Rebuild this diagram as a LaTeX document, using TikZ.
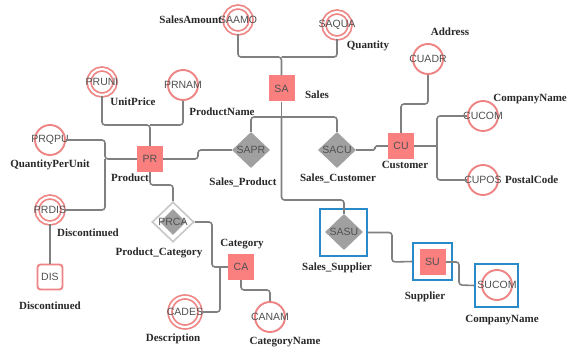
\documentclass[tikz,border=0pt]{standalone}
\usepackage{fontspec}
\setmainfont{Liberation Serif}
\setsansfont{Liberation Sans}
\usetikzlibrary{shapes.geometric,calc}
\definecolor{pinkfill}{RGB}{250,128,128}
\definecolor{pinkline}{RGB}{238,132,132}
\definecolor{connc}{RGB}{128,128,128}
\definecolor{diamc}{RGB}{160,160,160}
\definecolor{bluec}{RGB}{40,138,200}
\definecolor{ntext}{RGB}{80,80,80}
\definecolor{ltext}{RGB}{40,40,40}
\tikzset{
  conn/.style={draw=connc, line width=1.6pt, rounded corners=3pt},
  ntxt/.style={font=\sffamily\fontsize{10.5}{12}\selectfont, text=ntext},
  ent/.style={rectangle, fill=pinkfill, minimum size=26pt, inner sep=0pt, ntxt},
  att/.style={circle, draw=pinkline, line width=1.9pt, minimum size=30pt, inner sep=0pt},
  datt/.style={circle, draw=pinkline, line width=1.7pt, double=white, double distance=2.2pt, minimum size=26pt, inner sep=0pt},
  rel/.style={diamond, fill=diamc, minimum width=38pt, minimum height=36pt, inner sep=0pt},
  bbox/.style={rectangle, draw=bluec, line width=1.6pt, inner sep=0pt},
  lbl/.style={font=\bfseries\fontsize{11}{13}\selectfont, text=ltext, inner sep=0pt},
}
\begin{document}
\begin{tikzpicture}[x=1pt,y=-1pt]
\useasboundingbox (0,0) rectangle (568,347);
\clip (0,0) rectangle (568,347);
\fill[white] (0,0) rectangle (568,347);
% ---------- Sales
\node[ent] (sa) at (281.5,88.5) {SA};
\node[datt, label={[ntxt]center:SAAMO}] (saamo) at (238,20) {};
\node[datt, label={[ntxt]center:SAQUA}] (saqua) at (337,25) {};
\node[rel, label={[ntxt]center:SAPR}] (sapr) at (251,150) {};
\node[rel, label={[ntxt]center:SACU}] (sacu) at (337,150) {};
% ---------- Product
\node[ent] (pr) at (150,159) {PR};
\node[datt, label={[ntxt]center:PRUNI}] (pruni) at (102,82) {};
\node[att, label={[ntxt]center:PRNAM}] (prnam) at (183,85) {};
\node[att, label={[ntxt]center:PRQPU}] (prqpu) at (50,140) {};
\node[datt, label={[ntxt]center:PRDIS}] (prdis) at (50,210) {};
\node[rectangle, rounded corners=3pt, draw=pinkline, line width=1.9pt, minimum size=25pt, inner sep=0pt, ntxt] (dis) at (50,277) {DIS};
% ---------- Product_Category
\node[diamond, draw={rgb,255:red,200;green,200;blue,200}, fill=white, line width=1.6pt, minimum width=42pt, minimum height=40pt, inner sep=0pt] (prca) at (173,222) {};
\node[diamond, fill=diamc, minimum width=26pt, minimum height=26pt, inner sep=0pt] (prcain) at (173,222) {};
\node[ntxt] (prcat) at (173,222) {PRCA};
% ---------- Category
\node[ent] (ca) at (241,267) {CA};
\node[datt, minimum size=30pt, label={[ntxt]center:CADES}] (cades) at (185,312) {};
\node[att, label={[ntxt]center:CANAM}] (canam) at (270,317) {};
% ---------- Customer
\node[ent] (cu) at (401,146) {CU};
\node[att, label={[ntxt]center:CUADR}] (cuadr) at (428,59) {};
\node[att, label={[ntxt]center:CUCOM}] (cucom) at (483,116) {};
\node[att, label={[ntxt]center:CUPOS}] (cupos) at (483,180) {};
% ---------- Supplier
\node[bbox, minimum size=47pt] (sasubox) at (343.5,232.5) {};
\node[rel, label={[ntxt]center:SASU}] (sasu) at (344,232) {};
\node[bbox, minimum width=39pt, minimum height=37pt] (subox) at (432.5,261.5) {};
\node[ent] (su) at (432.5,262) {SU};
\node[bbox, minimum size=43pt] (sucombox) at (496.5,285.5) {};
\node[att, label={[ntxt]center:SUCOM}] (sucom) at (497,285) {};
% ---------- labels
\node[lbl, anchor=east] (l1) at (222,20) {SalesAmount};
\node[lbl] (l2) at (368,46) {Quantity};
\node[lbl] (l3) at (317,95) {Sales};
\node[lbl] (l4) at (243,182) {Sales\_Product};
\node[lbl] (l5) at (338,178) {Sales\_Customer};
\node[lbl] (l6) at (130,178) {Product};
\node[lbl] (l7) at (133,102) {UnitPrice};
\node[lbl] (l8) at (222,112) {ProductName};
\node[lbl] (l9) at (50,165) {QuantityPerUnit};
\node[lbl] (l10) at (88,233) {Discontinued};
\node[lbl] (l11) at (50,306) {Discontinued};
\node[lbl] (l12) at (159,253) {Product\_Category};
\node[lbl] (l13) at (242,244) {Category};
\node[lbl] (l14) at (173,339) {Description};
\node[lbl] (l15) at (285,342) {CategoryName};
\node[lbl] (l16) at (405,165) {Customer};
\node[lbl] (l17) at (450,32) {Address};
\node[lbl, anchor=east] (l18) at (567,99) {CompanyName};
\node[lbl, anchor=west] (l19) at (505,180) {PostalCode};
\node[lbl] (l20) at (337,268) {Sales\_Supplier};
\node[lbl] (l21) at (425,297) {Supplier};
\node[lbl] (l22) at (502,320) {CompanyName};
% ---------- junctions
\coordinate (jtop) at (281.5,57);
\coordinate (jsa) at (281.5,117);
\coordinate (jsas) at (281.5,200);
\coordinate (jpr) at (150,125);
\coordinate (jpl) at (105,159);
\coordinate (jpc) at (150,185);
\coordinate (jcaa) at (212,267);
\coordinate (jcab) at (220,267);
\coordinate (jcan) at (241,290);
\coordinate (jsapr) at (198,150);
\coordinate (jsacu) at (375,146);
\coordinate (jcuadr) at (401,104);
\coordinate (jcu) at (437,146);
\coordinate (jsasu) at (392,262);
\coordinate (jsu) at (459,285);
% ---------- connectors
\draw[conn] (saamo.south) |- (jtop) -- (sa.north);
\draw[conn] (saqua.south) |- (jtop);
\draw[conn] (sa.south) -- (jsa);
\draw[conn] (sapr.north) |- (jsa);
\draw[conn] (sacu.north) |- (jsa);
\draw[conn] (jsa) -- (jsas) -| (sasu.north);
\draw[conn] (pr.east) -| (jsapr) -- (sapr.west);
\draw[conn] (pruni.south) |- (jpr) -- (pr.north);
\draw[conn] (prnam.south) |- (jpr);
\draw[conn] (prqpu.east) -| (jpl) -- (pr.west);
\draw[conn] (prdis.east) -| (jpl);
\draw[conn] (prdis.south) -- (dis.north);
\draw[conn] (pr.south) -- (jpc) -| (prca.north);
\draw[conn] (prca.east) -| (jcaa) -- (ca.west);
\draw[conn] (cades.east) -| (jcab);
\draw[conn] (ca.south) -- (jcan) -| (canam.north);
\draw[conn, rounded corners=1.5pt] (sacu.east) -| (jsacu) -- (cu.west);
\draw[conn] (cu.north) -- (jcuadr) -| (cuadr.south);
\draw[conn] (cu.east) -- (jcu);
\draw[conn] (cucom.west) -| (jcu);
\draw[conn] (cupos.west) -| (jcu);
\draw[conn] (sasubox.east) -| (jsasu) -- (subox.west);
\draw[conn] (su.east) -| (jsu) -- (sucombox.west);
\end{tikzpicture}
\end{document}
